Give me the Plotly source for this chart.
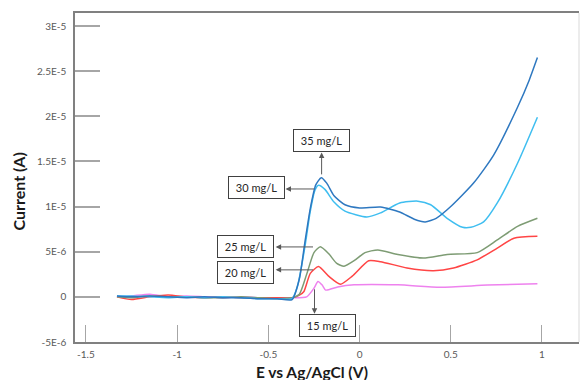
import plotly.graph_objects as go

# ---------------- data (current in microamps) ----------------
base_x = [-1.33, -1.25, -1.15, -1.05, -0.95, -0.85, -0.75, -0.65, -0.55, -0.45, -0.37]

x_35 = base_x + [-0.33, -0.30, -0.27, -0.24, -0.21, -0.18, -0.14, -0.08, 0.0, 0.115, 0.22, 0.30, 0.36, 0.42, 0.5, 0.625, 0.735, 0.866, 0.93, 0.975]
i_35 = [0.1, 0.0, 0.1, 0.0, -0.1, 0.0, -0.1, -0.1, -0.2, -0.2, -0.3,
        2.0, 6.0, 9.8, 12.4, 13.2, 12.6, 11.2, 10.2, 9.85, 9.95, 9.4, 8.6, 8.3, 8.7, 10.0, 12.6, 15.7, 21.0, 24.0, 26.5]

x_30 = base_x + [-0.34, -0.30, -0.27, -0.245, -0.225, -0.19, -0.14, -0.08, 0.04, 0.115, 0.22, 0.32, 0.39, 0.48, 0.565, 0.61, 0.68, 0.755, 0.866, 0.975]
i_30 = [0.1, 0.1, 0.0, -0.1, 0.0, -0.1, 0.0, -0.1, -0.2, -0.2, -0.2,
        1.2, 5.5, 9.5, 11.8, 12.35, 11.9, 10.5, 9.5, 8.85, 9.3, 10.4, 10.6, 10.2, 8.7, 7.7, 7.7, 8.3, 10.4, 14.8, 19.9]

x_25 = base_x + [-0.33, -0.29, -0.25, -0.215, -0.17, -0.125, -0.085, -0.03, 0.03, 0.10, 0.21, 0.35, 0.48, 0.645, 0.755, 0.866, 0.975]
i_25 = [0.0, -0.1, 0.1, 0.0, 0.0, -0.1, -0.1, 0.0, -0.1, -0.2, -0.1,
        0.3, 2.5, 4.9, 5.55, 4.8, 3.7, 3.4, 4.0, 4.9, 5.2, 4.7, 4.3, 4.7, 4.9, 6.3, 7.8, 8.7]

x_20 = base_x + [-0.33, -0.305, -0.27, -0.225, -0.17, -0.105, -0.04, 0.05, 0.115, 0.26, 0.405, 0.515, 0.645, 0.755, 0.846, 0.975]
i_20 = [0.0, -0.3, 0.0, 0.2, 0.0, -0.1, 0.0, -0.1, -0.1, -0.1, -0.1,
        0.2, 0.6, 2.6, 3.35, 2.3, 1.4, 2.3, 4.0, 3.9, 3.2, 2.9, 3.2, 4.1, 5.4, 6.5, 6.7]

x_15 = base_x + [-0.29, -0.25, -0.228, -0.205, -0.186, -0.12, -0.03, 0.21, 0.443, 0.7, 0.975]
i_15 = [0.0, 0.1, 0.3, 0.0, 0.1, 0.0, -0.1, 0.0, -0.1, -0.1, -0.1,
        0.0, 0.95, 1.7, 1.3, 0.75, 1.1, 1.33, 1.33, 1.07, 1.3, 1.44]

series_names = ["15 mg/L", "20 mg/L", "25 mg/L", "30 mg/L", "35 mg/L"]
series_x = [x_15, x_20, x_25, x_30, x_35]
series_i = [i_15, i_20, i_25, i_30, i_35]
series_colors = ["#EE82EE", "#FF4545", "#7E9C74", "#3FBEF0", "#2E78C0"]

y_tickvals = [-5e-6, 0, 5e-6, 1e-5, 1.5e-5, 2e-5, 2.5e-5, 3e-5]
y_ticktext = ["-5E-6", "0", "5E-6", "1E-5", "1.5E-5", "2E-5", "2.5E-5", "3E-5"]
x_tickvals = [-1.5, -1, -0.5, 0, 0.5, 1]
x_ticktext = ["-1.5", "-1", "-0.5", "0", "0.5", "1"]

# label boxes (text, box centre x, box centre y in A)
label_text = ["35 mg/L", "30 mg/L", "25 mg/L", "20 mg/L", "15 mg/L"]
label_x = [-0.211, -0.565, -0.625, -0.625, -0.175]
label_y = [17.3e-6, 12.06e-6, 5.59e-6, 2.71e-6, -3.2e-6]
# arrows: tail (on curve) -> head (at box)
arrow_tail_x = [-0.208, -0.241, -0.247, -0.247, -0.247]
arrow_tail_y = [13.4e-6, 11.95e-6, 5.53e-6, 2.99e-6, 1.0e-6]
arrow_head_x = [-0.208, -0.406, -0.46, -0.46, -0.247]
arrow_head_y = [16.0e-6, 11.95e-6, 5.53e-6, 2.99e-6, -1.88e-6]

FONT = "Lato"

fig = go.Figure()
for name, xs, ys, col in zip(series_names, series_x, series_i, series_colors):
    fig.add_trace(go.Scatter(
        x=xs, y=[v * 1e-6 for v in ys], mode="lines", name=name,
        line=dict(color=col, width=1.5, shape="spline", smoothing=0.6),
        showlegend=False))

for t, bx, by in zip(label_text, label_x, label_y):
    fig.add_annotation(x=bx, y=by, xref="x", yref="y", text=t, showarrow=False,
                       font=dict(family=FONT, size=11, color="#262626"),
                       bgcolor="white", bordercolor="#404040", borderwidth=1,
                       width=53, height=19, borderpad=1)

for tx, ty, hx, hy in zip(arrow_tail_x, arrow_tail_y, arrow_head_x, arrow_head_y):
    fig.add_annotation(x=hx, y=hy, ax=tx, ay=ty, xref="x", yref="y",
                       axref="x", ayref="y", text="", showarrow=True,
                       arrowhead=2, arrowsize=1.1, arrowwidth=1,
                       arrowcolor="#595959", standoff=0, startstandoff=0)

# axis titles
fig.add_annotation(x=0.470, y=-0.092, xref="paper", yref="paper",
                   text="<b>E vs Ag/AgCl (V)</b>", showarrow=False,
                   font=dict(family=FONT, size=15.5, color="#1a1a1a"),
                   xanchor="center", yanchor="middle")
fig.add_annotation(x=-0.112, y=0.456, xref="paper", yref="paper",
                   text="<b>Current (A)</b>", showarrow=False, textangle=-90,
                   font=dict(family=FONT, size=16, color="#1a1a1a"),
                   xanchor="center", yanchor="middle")

# right border (light)
fig.add_shape(type="line", xref="paper", yref="paper", x0=1, x1=1, y0=0, y1=1,
              line=dict(color="#d9d9d9", width=1))

fig.update_xaxes(range=[-1.56, 1.203], tickvals=x_tickvals, ticktext=x_ticktext,
                 showgrid=False, zeroline=False, showline=True, mirror=True,
                 linecolor="#808080", linewidth=1.5,
                 ticks="inside", ticklen=17, tickcolor="#a6a6a6", tickwidth=1,
                 tickfont=dict(family=FONT, size=10, color="#595959"),
                 ticklabelstandoff=2)
fig.update_yaxes(range=[-5e-6, 3.144e-5], tickvals=y_tickvals, ticktext=y_ticktext,
                 showgrid=False, zeroline=False, showline=True,
                 linecolor="#808080", linewidth=1.5,
                 ticks="inside", ticklen=25, tickcolor="#a6a6a6", tickwidth=1.5,
                 tickfont=dict(family=FONT, size=10, color="#595959"),
                 ticklabelstandoff=5)

fig.update_layout(width=581, height=380, plot_bgcolor="white", paper_bgcolor="white",
                  margin=dict(l=75, r=2, t=13, b=38), showlegend=False)

fig.write_html("out.html", config={"displayModeBar": False},
               post_script="document.body.style.margin='0px';document.body.style.padding='0px';")
